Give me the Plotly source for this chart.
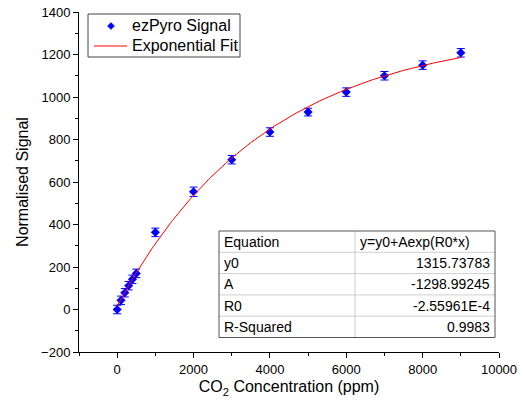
import numpy as np
import plotly.graph_objects as go

# Data
co2_ppm = [0, 100, 200, 300, 400, 500, 1000, 2000, 3000, 4000, 5000, 6000, 7000, 8000, 9000]
signal = [0, 43, 79, 112, 142, 170, 363, 554, 705, 835, 929, 1023, 1100, 1150, 1208]
signal_err = [20, 20, 20, 20, 20, 20, 20, 22, 20, 20, 18, 20, 20, 20, 20]

# Fit parameters
fit_y0 = 1315.73783
fit_A = -1298.99245
fit_R0 = -2.55961e-4

table_header = ["Equation", "y=y0+Aexp(R0*x)"]
table_labels = ["y0", "A", "R0", "R-Squared"]
table_values = ["1315.73783", "-1298.99245", "-2.55961E-4", "0.9983"]

legend_names = ["ezPyro Signal", "Exponential Fit"]

FONT = "Liberation Sans, Arial, sans-serif"
W, H = 524, 406
ML, MR, MT, MB = 79, 25, 12, 54
PW, PH = W - ML - MR, H - MT - MB


def px(x):
    return (x - ML) / PW


def py(y):
    return (H - MB - y) / PH


fit_x = np.linspace(0, 9000, 200)
fit_y = fit_y0 + fit_A * np.exp(fit_R0 * fit_x)

fig = go.Figure()
fig.add_trace(go.Scatter(
    x=co2_ppm, y=signal, mode="markers", name=legend_names[0],
    marker=dict(symbol="diamond", size=7, color="#0000ff"),
    error_y=dict(type="data", array=signal_err, visible=True,
                 color="#0000ff", thickness=1, width=4),
    showlegend=False,
))
fig.add_trace(go.Scatter(
    x=fit_x, y=fit_y, mode="lines", name=legend_names[1],
    line=dict(color="#ff0000", width=1),
    showlegend=False,
))

shapes = []
annotations = []

# Legend box (drawn)
lg_l, lg_r, lg_t, lg_b = 88, 240, 14, 57
row_y = [26, 46]
shapes.append(dict(type="rect", xref="paper", yref="paper",
                   x0=px(lg_l), x1=px(lg_r), y0=py(lg_b), y1=py(lg_t),
                   fillcolor="white", line=dict(color="#444444", width=1)))
d = 3.5
mx, my = 111, row_y[0]
shapes.append(dict(type="path", xref="paper", yref="paper",
                   path=f"M {px(mx)} {py(my - d)} L {px(mx + d)} {py(my)} L {px(mx)} {py(my + d)} L {px(mx - d)} {py(my)} Z",
                   fillcolor="#0000ff", line=dict(color="#0000ff", width=0.5)))
shapes.append(dict(type="line", xref="paper", yref="paper",
                   x0=px(94), x1=px(127), y0=py(row_y[1]), y1=py(row_y[1]),
                   line=dict(color="#ff0000", width=1)))
for name, ry in zip(legend_names, row_y):
    annotations.append(dict(xref="paper", yref="paper", x=px(130), y=py(ry),
                            text=name, showarrow=False, xanchor="left", yanchor="middle",
                            font=dict(family=FONT, size=16, color="black")))

# Table drawn with shapes and annotations
t_left, t_mid, t_right = 219, 355, 495
t_top, row_h = 231, 21.3
rows = [table_header] + [[a, b] for a, b in zip(table_labels, table_values)]
n = len(rows)
t_bot = t_top + n * row_h
shapes.append(dict(type="rect", xref="paper", yref="paper",
                   x0=px(t_left), x1=px(t_right), y0=py(t_bot), y1=py(t_top),
                   fillcolor="white", line=dict(width=0)))
for i in range(1, n):
    yy = py(t_top + i * row_h)
    shapes.append(dict(type="line", xref="paper", yref="paper",
                       x0=px(t_left), x1=px(t_right), y0=yy, y1=yy,
                       line=dict(color="#cfcfcf", width=1)))
shapes.append(dict(type="line", xref="paper", yref="paper",
                   x0=px(t_mid), x1=px(t_mid), y0=py(t_bot), y1=py(t_top),
                   line=dict(color="#cfcfcf", width=1)))
shapes.append(dict(type="rect", xref="paper", yref="paper",
                   x0=px(t_left), x1=px(t_right), y0=py(t_bot), y1=py(t_top),
                   line=dict(color="#555555", width=1)))
for i, (a, b) in enumerate(rows):
    yc = py(t_top + (i + 0.5) * row_h)
    annotations.append(dict(xref="paper", yref="paper", x=px(t_left + 3), y=yc,
                            text=a, showarrow=False, xanchor="left", yanchor="middle",
                            font=dict(family=FONT, size=14, color="black")))
    if i == 0:
        annotations.append(dict(xref="paper", yref="paper", x=px(t_mid + 3), y=yc,
                                text=b, showarrow=False, xanchor="left", yanchor="middle",
                                font=dict(family=FONT, size=14, color="black")))
    else:
        annotations.append(dict(xref="paper", yref="paper", x=px(t_right - 3), y=yc,
                                text=b, showarrow=False, xanchor="right", yanchor="middle",
                                font=dict(family=FONT, size=14, color="black")))

fig.update_layout(
    width=W, height=H,
    margin=dict(l=ML, r=MR, t=MT, b=MB, autoexpand=False),
    paper_bgcolor="white", plot_bgcolor="white",
    font=dict(family=FONT, size=13, color="black"),
    showlegend=False,
    shapes=shapes, annotations=annotations,
    xaxis=dict(range=[-1000, 10000], tickvals=[0, 2000, 4000, 6000, 8000, 10000],
               tickformat="d", automargin=False,
               showgrid=False, zeroline=False, showline=True, linecolor="black", linewidth=1,
               ticks="outside", ticklen=5, tickcolor="black",
               minor=dict(dtick=1000, tick0=0, ticks="outside", ticklen=3, tickcolor="black"),
               title=dict(text="CO<sub>2</sub> Concentration (ppm)", font=dict(size=16), standoff=5),
               tickfont=dict(size=13)),
    yaxis=dict(range=[-200, 1400], dtick=200, automargin=False,
               showgrid=False, zeroline=False, showline=True, linecolor="black", linewidth=1,
               ticks="outside", ticklen=5, tickcolor="black",
               minor=dict(dtick=100, ticks="outside", ticklen=3, tickcolor="black"),
               title=dict(text="Normalised Signal", font=dict(size=16), standoff=8),
               tickfont=dict(size=13)),
)

fig.write_html("out.html")
